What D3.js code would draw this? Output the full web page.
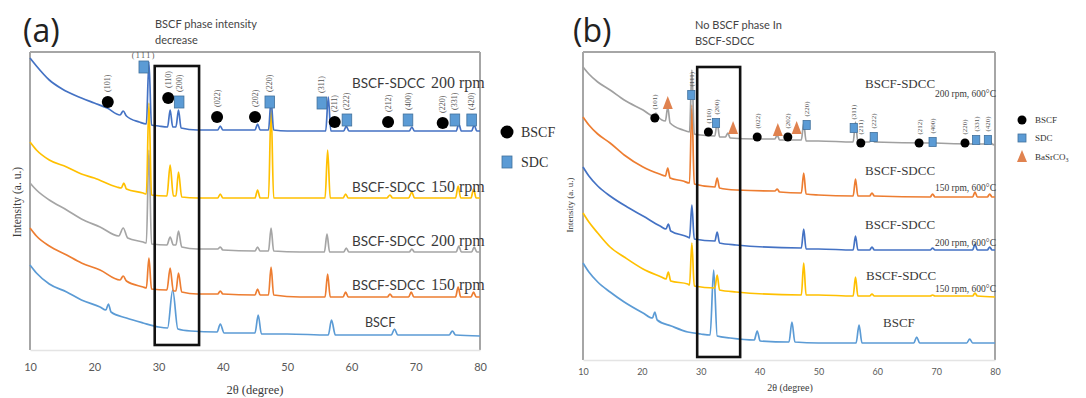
<!DOCTYPE html>
<html>
<head>
<meta charset="utf-8">
<script src="https://cdn.jsdelivr.net/npm/d3@7"></script>
<style>
  html, body { margin: 0; padding: 0; background: #fff; }
  svg { display: block; }
</style>
</head>
<body>
<svg id="chart" width="1086" height="398"></svg>
<script>
// ---- data: [2theta, intensity (a.u.)] ----
const tickValues = [10, 20, 30, 40, 50, 60, 70, 80];

// panel (a)
const a200rpm = [[10,2920],[11,2840],[13,2700],[15,2610],[18,2520],[20,2470],[22,2420],[24,2350],[24.5,2390],[25,2340],[27,2280],[28.1,2260],[28.5,2880],[28.9,2250],[30,2240],[31.4,2230],[31.8,2400],[32.2,2230],[32.7,2230],[33.1,2400],[33.5,2220],[36,2200],[39.2,2200],[39.6,2240],[40,2200],[45,2200],[45.4,2260],[45.8,2200],[47.1,2200],[47.5,2500],[47.9,2200],[50,2190],[56,2190],[56.4,2530],[56.8,2190],[58.8,2190],[59.2,2240],[59.6,2190],[69,2190],[69.4,2230],[69.8,2190],[76.3,2190],[76.7,2260],[77.1,2190],[78.7,2190],[79.1,2250],[79.5,2190],[80,2190]];
const a150rpm = [[10,2080],[11,2000],[13,1900],[15.7,1830],[18,1760],[20,1720],[23.5,1630],[24.2,1620],[24.6,1670],[25,1610],[27.6,1570],[28.1,1560],[28.5,2470],[28.9,1550],[31.3,1540],[31.8,1850],[32.3,1540],[32.7,1540],[33.1,1780],[33.6,1530],[36,1520],[39.2,1520],[39.6,1560],[40,1520],[45,1520],[45.4,1600],[45.8,1520],[47.1,1520],[47.5,2420],[47.9,1520],[50,1520],[55.9,1520],[56.3,2000],[56.7,1520],[58.7,1520],[59.1,1560],[59.5,1520],[65.5,1520],[66,1550],[66.4,1520],[68.9,1520],[69.4,1580],[69.8,1520],[76.2,1520],[76.6,1640],[77,1520],[78.6,1520],[79,1610],[79.4,1520],[80,1520]];
const a200rpmB = [[10,1670],[11,1600],[13,1500],[15.7,1400],[18,1310],[20.9,1230],[23.8,1140],[24.5,1220],[25.2,1120],[27.6,1080],[28.1,1070],[28.5,2000],[28.9,1060],[31.3,1050],[31.8,1130],[32.3,1050],[32.7,1050],[33.1,1190],[33.6,1030],[36,1010],[39.2,1010],[39.6,1030],[40,1000],[45,990],[45.4,1030],[45.8,990],[47.1,990],[47.5,1220],[47.9,990],[52,980],[55.8,980],[56.2,1160],[56.6,980],[58.8,980],[59.2,1020],[59.6,980],[69,980],[69.4,1010],[69.8,980],[76.3,980],[76.7,1040],[77.1,980],[78.7,980],[79.1,1030],[79.5,980],[80,980]];
const a150rpmB = [[10,1220],[11,1140],[13,1040],[15.7,950],[18,870],[20.9,800],[24,700],[24.5,740],[25,690],[27.6,630],[28.1,620],[28.5,920],[28.9,610],[31.3,600],[31.8,820],[32.3,590],[32.7,590],[33.1,770],[33.6,580],[36,560],[39.2,560],[39.6,590],[40,560],[45,550],[45.4,610],[45.8,550],[47.1,550],[47.5,830],[47.9,550],[52,530],[55.9,530],[56.3,760],[56.7,530],[58.7,530],[59.1,580],[59.5,530],[65.6,530],[66,560],[66.4,530],[68.9,530],[69.3,580],[69.7,530],[76.2,530],[76.6,630],[77,530],[78.6,530],[79,580],[79.4,530],[80,530]];
const aBSCF = [[10,850],[11,770],[13,660],[15.7,580],[18,500],[20.9,430],[21.8,400],[22.2,460],[22.6,380],[25,320],[27.6,270],[30,230],[31.4,220],[32.2,600],[33,210],[35,190],[39.1,180],[39.6,260],[40.2,170],[45,170],[45.5,350],[46,160],[50,160],[56.4,150],[56.9,300],[57.5,150],[66.2,150],[66.7,210],[67.2,150],[75.2,150],[75.7,190],[76.2,150],[80,140]];

const aBSCFPeaks = [22.1, 31.5, 39.1, 45.0, 57.4, 65.7, 74.2];
const aBSCFMarkI = [2480, 2520, 2330, 2330, 2280, 2280, 2270];
const aSDCPeaks = [27.7, 33.2, 47.3, 55.4, 59.3, 68.8, 76.1, 78.7];
const aSDCMarkI = [2830, 2480, 2480, 2470, 2300, 2300, 2300, 2300];

// panel (b)
const b200rpm = [[10,2930],[11,2860],[12.5,2780],[14.6,2700],[17,2600],[20.2,2500],[22,2440],[22.4,2470],[22.8,2430],[24,2390],[24.4,2530],[24.8,2370],[27,2300],[28.1,2280],[28.5,2900],[28.9,2260],[30,2250],[32.4,2240],[32.8,2380],[33.2,2230],[34.2,2230],[34.6,2270],[35,2220],[39.3,2210],[39.6,2240],[40,2210],[42.6,2210],[43,2250],[43.4,2200],[47.1,2200],[47.5,2370],[47.9,2190],[50,2190],[55.9,2180],[56.3,2380],[56.7,2180],[58.7,2180],[59.1,2230],[59.5,2180],[69,2170],[69.4,2210],[69.8,2170],[76.3,2160],[76.7,2220],[77.1,2160],[78.7,2160],[79.1,2200],[79.5,2160],[80,2150]];
const b150rpm = [[10,2430],[11,2350],[12.5,2260],[14.6,2170],[17,2050],[20.2,1930],[23,1860],[24,1840],[24.4,1920],[24.8,1820],[27,1790],[28.1,1770],[28.5,2550],[28.9,1760],[32.4,1730],[32.8,1820],[33.2,1720],[36,1700],[42.6,1690],[43,1710],[43.4,1680],[47.1,1670],[47.5,1870],[47.9,1660],[50,1650],[55.9,1640],[56.3,1810],[56.7,1640],[58.7,1640],[59.1,1670],[59.5,1640],[69,1630],[69.4,1660],[69.8,1630],[76.2,1630],[76.6,1680],[77,1630],[78.7,1630],[79.1,1660],[79.5,1630],[80,1630]];
const b200rpmB = [[10,1930],[11,1840],[12.5,1740],[14.6,1640],[17.5,1530],[20.2,1440],[23.1,1340],[24.1,1310],[24.5,1360],[24.9,1290],[27.8,1230],[28.1,1220],[28.5,1550],[28.9,1210],[32.4,1190],[32.8,1280],[33.2,1170],[36,1150],[47.1,1120],[47.5,1310],[47.9,1110],[50,1110],[55.9,1100],[56.3,1240],[56.7,1100],[58.7,1100],[59.1,1130],[59.5,1100],[69,1100],[69.4,1120],[69.8,1100],[76.2,1100],[76.6,1160],[77,1100],[78.7,1100],[79.1,1130],[79.5,1100],[80,1100]];
const b150rpmB = [[10,1470],[11,1380],[12.5,1270],[14.6,1130],[17,1030],[20.2,910],[23.3,830],[24.1,810],[24.5,880],[24.9,790],[27.8,760],[28.1,750],[28.5,1170],[28.9,740],[32.4,720],[32.8,850],[33.2,700],[36,680],[47.1,650],[47.5,970],[47.9,650],[50,650],[55.9,640],[56.3,830],[56.7,640],[58.7,640],[59.1,660],[59.5,640],[69,640],[69.4,650],[69.8,640],[76.2,640],[76.6,670],[77,640],[80,630]];
const bBSCF = [[10,970],[11,880],[12.5,780],[14.6,680],[17,580],[20.2,470],[21.8,420],[22.2,480],[22.6,400],[25,340],[27.8,280],[30,260],[31.6,250],[32.2,900],[32.8,240],[35,220],[39.1,200],[39.6,290],[40.1,190],[45,180],[45.5,380],[46,180],[50,170],[56.4,170],[56.9,350],[57.4,170],[66.2,170],[66.7,230],[67.2,170],[75.2,170],[75.7,210],[76.2,170],[80,170]];

const bBSCFPeaks = [22.2, 31.3, 39.6, 44.8, 57.2, 67.1, 74.9];
const bBSCFMarkI = [2420, 2280, 2230, 2230, 2170, 2170, 2170];
const bSDCPeaks = [28.4, 32.6, 48.0, 56.0, 59.4, 69.4, 76.8, 78.8];
const bSDCMarkI = [2650, 2370, 2350, 2320, 2230, 2180, 2200, 2200];
const bCarbPeaks = [24.4, 35.5, 43.1, 46.3];
const bCarbMarkI = [2570, 2320, 2300, 2320];

const bscfHkl = ["(101)", "(110)", "(022)", "(202)", "(211)", "(212)", "(220)"];
const sdcHkl = ["(111)", "(200)", "(220)", "(311)", "(222)", "(400)", "(331)", "(420)"];

// ---- drawing ----
const svg = d3.select('#chart');
const serif = '"Liberation Serif", "DejaVu Serif", serif';
const sans = 'Lato, "Open Sans", "Liberation Sans", sans-serif';
const frameColor = '#a6a6a6';

function drawPanel(p) {
  const x = d3.scaleLinear().domain([10, 80]).range([p.left, p.right]);
  const y = d3.scaleLinear().domain([0, p.yMax]).range([p.bottom, p.top]);
  const g = svg.append('g');

  // frame: top and right borders, left axis, faint bottom axis
  g.append('line').attr('x1', p.left).attr('x2', p.right).attr('y1', p.top).attr('y2', p.top)
    .attr('stroke', frameColor).attr('stroke-width', 2);
  g.append('line').attr('x1', p.right).attr('x2', p.right).attr('y1', p.top).attr('y2', p.bottom)
    .attr('stroke', frameColor).attr('stroke-width', 2);
  g.append('line').attr('x1', p.left).attr('x2', p.left).attr('y1', p.top).attr('y2', p.bottom)
    .attr('stroke', frameColor).attr('stroke-width', 2);

  const axis = g.append('g').attr('transform', `translate(0,${p.bottom})`)
    .call(d3.axisBottom(x).tickValues(tickValues).tickSize(0).tickPadding(p.tickPad));
  axis.select('.domain').attr('stroke', '#e4e4e4').attr('stroke-width', 1.5);
  axis.selectAll('text').attr('fill', '#595959').style('font-family', sans).style('font-size', p.tickFont + 'px');

  // series
  const line = d3.line().x(d => x(d[0])).y(d => y(d[1])).curve(d3.curveMonotoneX);
  p.series.forEach(s => {
    g.append('path').datum(s.data).attr('d', line)
      .attr('fill', 'none').attr('stroke', s.color).attr('stroke-width', 1.7)
      .attr('stroke-linejoin', 'round');
  });

  // highlight box
  g.append('rect')
    .attr('x', x(p.box[0])).attr('y', y(p.box[3]))
    .attr('width', x(p.box[1]) - x(p.box[0])).attr('height', y(p.box[2]) - y(p.box[3]))
    .attr('fill', 'none').attr('stroke', '#111').attr('stroke-width', 2.6);

  // peak markers with hkl labels
  const lab = (px, py, txt) => {
    if (py < p.top + 22) {
      g.append('text').attr('x', px).attr('y', py - 9).attr('text-anchor', 'middle')
        .style('font-family', serif).style('font-size', p.hklFont + 'px').attr('fill', '#555')
        .attr('letter-spacing', 1.5).text(txt);
    } else {
      g.append('text').attr('transform', `translate(${px + 2.5},${py - p.mark - 4}) rotate(-90)`)
        .style('font-family', serif).style('font-size', p.hklFont + 'px').attr('fill', '#555')
        .text(txt);
    }
  };
  p.bscf.forEach((t, i) => {
    const px = x(t), py = y(p.bscfI[i]);
    g.append('circle').attr('cx', px).attr('cy', py).attr('r', p.mark).attr('fill', '#000');
    lab(px, py, bscfHkl[i]);
  });
  p.sdc.forEach((t, i) => {
    const px = x(t), py = y(p.sdcI[i]);
    g.append('rect').attr('x', px - p.mark * 0.8).attr('y', py - p.mark)
      .attr('width', p.mark * 1.6).attr('height', p.mark * 2)
      .attr('fill', '#5b9bd5').attr('stroke', '#41719c').attr('stroke-width', 0.8);
    lab(px, py, sdcHkl[i]);
  });
  (p.carb || []).forEach((t, i) => {
    const px = x(t), py = y(p.carbI[i]);
    g.append('path').attr('d', `M${px},${py - 7}L${px + 5},${py + 6}L${px - 5},${py + 6}Z`)
      .attr('fill', '#e0824f');
  });

  // curve captions
  p.captions.forEach(c => {
    const t = g.append('text').attr('x', c.x).attr('y', c.y).attr('fill', '#3a3a3a');
    c.parts.forEach(part => {
      const ts = t.append('tspan').text(part.text).style('font-family', part.font).style('font-size', part.size + 'px');
      if (part.dx) ts.attr('dx', part.dx);
      if (part.x !== undefined) ts.attr('x', part.x).attr('y', part.y).attr('text-anchor', 'end');
    });
  });

  // axis titles
  g.append('text').attr('x', p.xTitle[0]).attr('y', p.xTitle[1]).attr('text-anchor', 'middle')
    .attr('fill', '#3a3a3a').style('font-family', serif).style('font-size', p.xTitle[2] + 'px')
    .text('2θ (degree)');
  g.append('text').attr('transform', `translate(${p.yTitle[0]},${p.yTitle[1]}) rotate(-90)`)
    .attr('text-anchor', 'middle').attr('fill', '#3a3a3a')
    .style('font-family', serif).style('font-size', p.yTitle[2] + 'px')
    .text('Intensity (a. u.)');

  // panel letter and note
  svg.append('text').attr('x', p.letter[0]).attr('y', p.letter[1]).attr('fill', '#222')
    .style('font-family', '"Open Sans", "Liberation Sans", sans-serif').style('font-size', '32px')
    .text(p.letter[2]);
  p.note.forEach((s, i) => {
    svg.append('text').attr('x', p.noteX).attr('y', p.noteY + i * 16).attr('fill', '#444')
      .style('font-family', sans).style('font-size', '11px').text(s);
  });

  return { x, y, g };
}

// panel (a)
const pa = drawPanel({
  left: 30, right: 480, top: 52, bottom: 350, yMax: 2980,
  tickPad: 13, tickFont: 11, hklFont: 8, mark: 6,
  series: [
    { data: aBSCF, color: '#5b9bd5' },
    { data: a150rpmB, color: '#ed7d31' },
    { data: a200rpmB, color: '#a5a5a5' },
    { data: a150rpm, color: '#ffc000' },
    { data: a200rpm, color: '#4472c4' }
  ],
  box: [29.4, 36.3, 50, 2840],
  bscf: aBSCFPeaks, bscfI: aBSCFMarkI, sdc: aSDCPeaks, sdcI: aSDCMarkI,
  captions: [
    { x: 352, y: 88, parts: [{ text: 'BSCF-SDCC', font: sans, size: 13.5 }, { text: '200 rpm', font: serif, size: 16, dx: 6 }] },
    { x: 352, y: 192, parts: [{ text: 'BSCF-SDCC', font: sans, size: 13.5 }, { text: '150 rpm', font: serif, size: 16, dx: 6 }] },
    { x: 352, y: 246, parts: [{ text: 'BSCF-SDCC', font: sans, size: 13.5 }, { text: '200 rpm', font: serif, size: 16, dx: 6 }] },
    { x: 352, y: 290, parts: [{ text: 'BSCF-SDCC', font: sans, size: 13.5 }, { text: '150 rpm', font: serif, size: 16, dx: 6 }] },
    { x: 365, y: 327, parts: [{ text: 'BSCF', font: sans, size: 12.5 }] }
  ],
  xTitle: [255, 394, 12.5], yTitle: [21, 202, 11.5],
  letter: [23, 42, '(a)'], note: ['BSCF phase intensity', 'decrease'], noteX: 155, noteY: 28
});

// legend (a)
pa.g.append('circle').attr('cx', 507).attr('cy', 132).attr('r', 6.5).attr('fill', '#000');
pa.g.append('text').attr('x', 521).attr('y', 137).attr('fill', '#333').style('font-family', serif).style('font-size', '14px').text('BSCF');
pa.g.append('rect').attr('x', 502).attr('y', 156).attr('width', 10).attr('height', 12).attr('fill', '#5b9bd5').attr('stroke', '#41719c').attr('stroke-width', 0.8);
pa.g.append('text').attr('x', 521).attr('y', 167).attr('fill', '#333').style('font-family', serif).style('font-size', '14px').text('SDC');

// panel (b)
const pb = drawPanel({
  left: 583, right: 995, top: 52, bottom: 360, yMax: 3080,
  tickPad: 9, tickFont: 9, hklFont: 7, mark: 4.5,
  series: [
    { data: bBSCF, color: '#5b9bd5' },
    { data: b150rpmB, color: '#ffc000' },
    { data: b200rpmB, color: '#4472c4' },
    { data: b150rpm, color: '#ed7d31' },
    { data: b200rpm, color: '#a0a0a0' }
  ],
  box: [29.4, 36.7, 30, 2930],
  bscf: bBSCFPeaks, bscfI: bBSCFMarkI, sdc: bSDCPeaks, sdcI: bSDCMarkI,
  carb: bCarbPeaks, carbI: bCarbMarkI,
  captions: [
    { x: 865, y: 88, parts: [{ text: 'BSCF-SDCC', font: serif, size: 13 }, { text: '200 rpm, 600°C', font: serif, size: 9.5, x: 996, y: 97 }] },
    { x: 865, y: 175, parts: [{ text: 'BSCF-SDCC', font: serif, size: 13 }, { text: '150 rpm, 600°C', font: serif, size: 9.5, x: 996, y: 191 }] },
    { x: 865, y: 229, parts: [{ text: 'BSCF-SDCC', font: serif, size: 13 }, { text: '200 rpm, 600°C', font: serif, size: 9.5, x: 996, y: 246 }] },
    { x: 866, y: 280, parts: [{ text: 'BSCF-SDCC', font: serif, size: 13 }, { text: '150 rpm, 600°C', font: serif, size: 9.5, x: 996, y: 292 }] },
    { x: 883, y: 327, parts: [{ text: 'BSCF', font: serif, size: 13 }] }
  ],
  xTitle: [790, 391, 10], yTitle: [573, 205, 9],
  letter: [573, 42, '(b)'], note: ['No BSCF phase In', 'BSCF-SDCC'], noteX: 695, noteY: 29
});

// legend (b)
pb.g.append('circle').attr('cx', 1022).attr('cy', 120).attr('r', 4.5).attr('fill', '#000');
pb.g.append('text').attr('x', 1035).attr('y', 123).attr('fill', '#333').style('font-family', serif).style('font-size', '9px').text('BSCF');
pb.g.append('rect').attr('x', 1018).attr('y', 134).attr('width', 8).attr('height', 8).attr('fill', '#5b9bd5').attr('stroke', '#41719c').attr('stroke-width', 0.8);
pb.g.append('text').attr('x', 1035).attr('y', 141).attr('fill', '#333').style('font-family', serif).style('font-size', '9px').text('SDC');
pb.g.append('path').attr('d', 'M1022,150L1027,162L1017,162Z').attr('fill', '#e0824f');
const carbText = pb.g.append('text').attr('x', 1035).attr('y', 160).attr('fill', '#333').style('font-family', serif).style('font-size', '9px');
carbText.append('tspan').text('BaSrCO');
carbText.append('tspan').attr('dy', 2).style('font-size', '6px').text('3');
</script>
</body>
</html>
